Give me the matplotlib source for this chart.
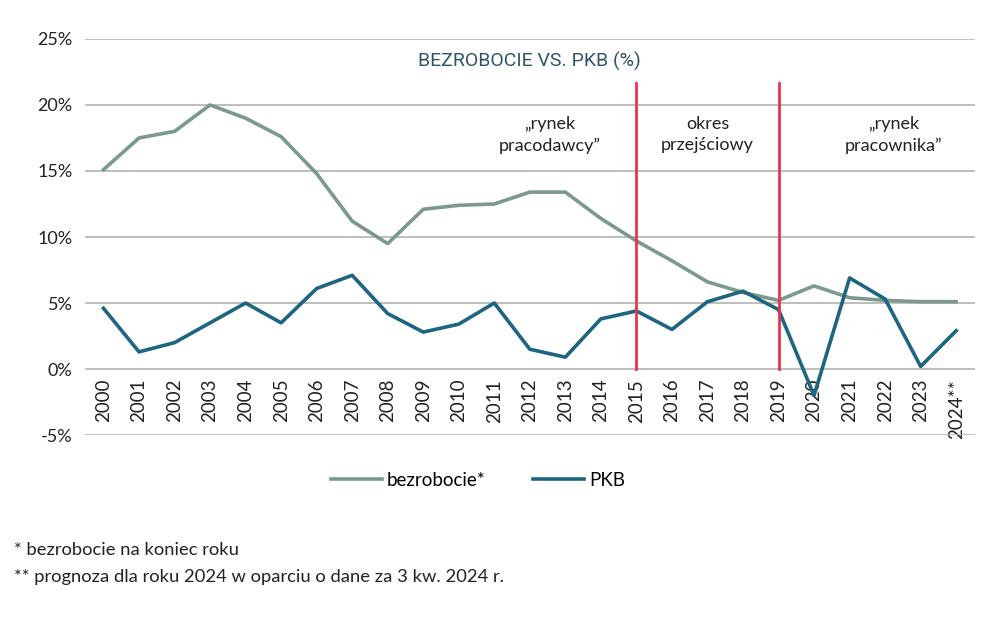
import matplotlib
matplotlib.use("Agg")
import matplotlib.pyplot as plt
from matplotlib.ticker import FuncFormatter

years = ["2000", "2001", "2002", "2003", "2004", "2005", "2006", "2007", "2008", "2009",
         "2010", "2011", "2012", "2013", "2014", "2015", "2016", "2017", "2018", "2019",
         "2020", "2021", "2022", "2023", "2024**"]
bezrobocie = [15.1, 17.5, 18.0, 20.0, 19.0, 17.6, 14.8, 11.2, 9.5, 12.1,
              12.4, 12.5, 13.4, 13.4, 11.4, 9.7, 8.2, 6.6, 5.8, 5.2,
              6.3, 5.4, 5.2, 5.1, 5.1]
pkb = [4.6, 1.3, 2.0, 3.5, 5.0, 3.5, 6.1, 7.1, 4.2, 2.8,
       3.4, 5.0, 1.5, 0.9, 3.8, 4.4, 3.0, 5.1, 5.9, 4.5,
       -2.0, 6.9, 5.3, 0.2, 2.9]
yticks = [-5, 0, 5, 10, 15, 20, 25]
markers_years = [15, 19]  # indices of 2015 and 2019
phases = ["\u201erynek\npracodawcy\u201d", "okres\nprzej\u015bciowy", "\u201erynek\npracownika\u201d"]
phase_x = [12.55, 17.0, 22.23]

plt.rcParams['font.family'] = ['Lato', 'DejaVu Sans']

fig = plt.figure(figsize=(10, 6.18), dpi=100)
ax = fig.add_axes([0.085, 0.296, 0.89, 0.641])
ax.spines['bottom'].set_position(('data', 0))

x = list(range(len(years)))
c_bez = "#7b998d"
c_pkb = "#1d6581"
ax.plot(x, bezrobocie, color=c_bez, lw=2.6, label="bezrobocie*", zorder=3)
ax.plot(x, pkb, color=c_pkb, lw=2.6, label="PKB", zorder=3)

for i in markers_years:
    ax.plot([i, i], [0, 21.7], color="#e8344e", lw=2, zorder=4)

ax.set_ylim(-5, 25)
ax.set_xlim(-0.52, 24.53)
ax.set_yticks(yticks)
ax.yaxis.set_major_formatter(FuncFormatter(lambda v, p: f"{int(v)}%"))
ax.grid(axis='y', color="#b3b3b3", lw=1.2, zorder=0)
ax.set_xticks(x)
ax.set_xticklabels(years, rotation=90)
ax.tick_params(axis='both', length=0, labelcolor="#222222")
ax.tick_params(axis='y', pad=9, labelsize=13)
ax.tick_params(axis='x', pad=7, labelsize=13.5)
for s in ax.spines.values():
    s.set_visible(False)

ax.text(11.99, 23.33, "BEZROBOCIE VS. PKB (%)", ha='center', va='center',
        fontsize=14, color="#2e5566", family=['Roboto', 'DejaVu Sans'])
for t, px in zip(phases, phase_x):
    ax.text(px, 17.75, t, ha='center', va='center', fontsize=13, color="#222222", linespacing=1.4)

fig.legend(loc='center', bbox_to_anchor=(0.478, 0.223), ncol=2, frameon=False,
           fontsize=13.5, handlelength=2.7, columnspacing=2.5, handletextpad=0.3)

fig.text(0.014, 0.11, "* bezrobocie na koniec roku", fontsize=13.2, color="#222222", va='center')
fig.text(0.014, 0.066, "** prognoza dla roku 2024 w oparciu o dane za 3 kw. 2024 r.",
         fontsize=13.2, color="#222222", va='center')

fig.savefig("out.png", dpi=100)
